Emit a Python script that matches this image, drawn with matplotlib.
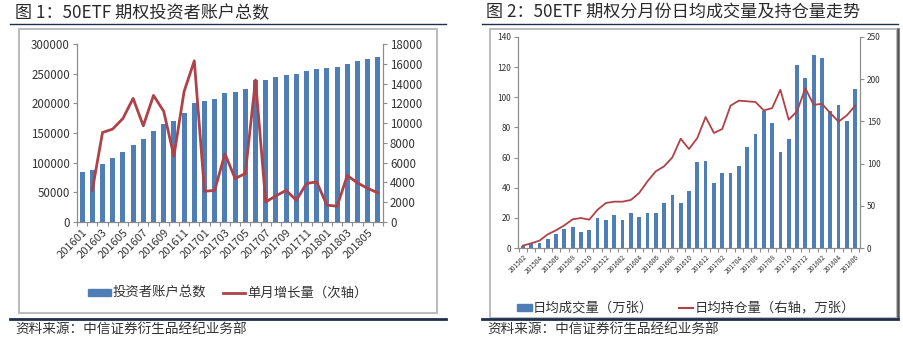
import matplotlib.pyplot as plt
from matplotlib.lines import Line2D
from matplotlib.patches import Patch, Rectangle
import numpy as np

plt.rcParams["font.family"] = ["Noto Sans CJK SC", "DejaVu Sans"]

W, H = 904, 344
BLUE = "#4F7DB5"
RED = "#AE4248"
GRAY = "#8c8c8c"
TXT = "#333333"
NAVY = "#1f2f4f"


def months(start_year, start_month, n):
    out = []
    y, m = start_year, start_month
    for _ in range(n):
        out.append(f"{y}{m:02d}")
        m += 1
        if m > 12:
            y, m = y + 1, 1
    return out


# figure 1: option investor accounts
months1 = months(2016, 1, 30)
accounts = [85000, 88000, 98000, 108000, 118000, 130000, 140000, 153000, 165000, 170000,
            184000, 200000, 204000, 207000, 217000, 219000, 224000, 239000, 240000, 244000,
            248000, 250000, 254000, 258000, 259000, 261000, 266000, 271000, 275000, 278000]
# monthly increase starts from 201602
growth = [3200, 9050, 9400, 10470, 12500, 9730, 12800, 11200, 6650, 13200,
          16300, 3100, 3200, 6900, 4400, 4900, 14360, 2030, 2640, 3200,
          2200, 3900, 4050, 1700, 1600, 4700, 3950, 3400, 2950]

# figure 2: monthly average volume / open interest
months2 = months(2015, 2, 41)
volume = [1.5, 2.6, 3.1, 5.8, 9.1, 12.4, 14.2, 10.6, 11.7, 19.9,
          18.8, 22.1, 18.4, 23.2, 20.6, 23.0, 23.5, 29.9, 35.2, 29.6,
          37.6, 57.3, 58.0, 43.1, 49.8, 49.8, 54.6, 66.8, 75.9, 91.2,
          83.0, 64.0, 72.6, 121.7, 113.0, 128.3, 126.0, 90.7, 94.9, 84.5, 105.5]
holding = [2.8, 5.5, 8.7, 16.2, 21.0, 26.9, 34.0, 35.5, 33.6, 45.4,
           53.3, 54.9, 54.9, 56.9, 65.2, 79.0, 90.8, 96.8, 107.4, 129.5,
           117.3, 130.3, 155.2, 136.3, 141.0, 168.6, 174.6, 173.8, 173.0, 163.0,
           165.7, 187.5, 152.0, 162.0, 189.3, 169.6, 170.8, 160.0, 149.7, 157.2, 168.6]


def px_axes(fig, left, top, right, bottom):
    return fig.add_axes([left / W, 1 - bottom / H, (right - left) / W, (bottom - top) / H])


def style_axes(ax, axr, n, labels, step, xfs, yfs, margin):
    ax.set_xlim(-margin, n - 1 + margin)
    ax.set_xticks(np.arange(0, n, step))
    ax.set_xticklabels(labels[::step], rotation=45, ha="right", rotation_mode="anchor",
                       fontsize=xfs, color=TXT)
    ax.set_xticks(np.arange(-0.5, n, 1), minor=True)
    ax.tick_params(axis="x", which="major", length=0, pad=4)
    ax.tick_params(axis="x", which="minor", length=3, color=GRAY, width=0.8)
    for a, side in ((ax, "left"), (axr, "right")):
        a.tick_params(axis="y", length=3, color=GRAY, width=0.8, labelsize=yfs,
                      labelcolor=TXT, pad=2)
        a.spines["top"].set_visible(False)
        for s in ("left", "right", "bottom"):
            a.spines[s].set_color(GRAY)
            a.spines[s].set_linewidth(0.8)


fig = plt.figure(figsize=(W / 100, H / 100), dpi=100)

# ---- left panel ----
ax1 = px_axes(fig, 77, 44, 383, 222)
x1 = np.arange(len(months1))
ax1.bar(x1, accounts, width=0.5, color=BLUE, zorder=2)
ax1.set_ylim(0, 300000)
ax1.set_yticks(np.arange(0, 300001, 50000))
ax1r = ax1.twinx()
ax1r.plot(x1[1:], growth, color=RED, lw=2.0, zorder=3)
ax1r.set_ylim(0, 18000)
ax1r.set_yticks(np.arange(0, 18001, 2000))
style_axes(ax1, ax1r, len(months1), months1, 2, 8, 8.3, 0.42)

fig.legend([Patch(color=BLUE), Line2D([], [], color=RED, lw=2)],
           ["投资者账户总数", "单月增长量（次轴）"],
           loc="center", bbox_to_anchor=(228 / W, 1 - 293 / H), ncol=2, frameon=False,
           fontsize=9.6, handlelength=1.7, handleheight=0.45, handletextpad=0.15,
           columnspacing=1.2, labelcolor=TXT)

# ---- right panel ----
ax2 = px_axes(fig, 518, 37, 860, 248)
x2 = np.arange(len(months2))
ax2.bar(x2, volume, width=0.45, color=BLUE, zorder=2)
ax2.set_ylim(0, 140)
ax2.set_yticks(np.arange(0, 141, 20))
ax2r = ax2.twinx()
ax2r.plot(x2, holding, color=RED, lw=1.3, zorder=3)
ax2r.set_ylim(0, 250)
ax2r.set_yticks(np.arange(0, 251, 50))
style_axes(ax2, ax2r, len(months2), months2, 2, 4.8, 6, 0.58)

fig.legend([Patch(color=BLUE), Line2D([], [], color=RED, lw=1.5)],
           ["日均成交量（万张）", "日均持仓量（右轴，万张）"],
           loc="center", bbox_to_anchor=(686 / W, 1 - 308 / H), ncol=2, frameon=False,
           fontsize=9.6, handlelength=1.1, handleheight=0.45, handletextpad=0.1,
           columnspacing=1.9, labelcolor=TXT)

# ---- titles, frames, rules, source notes ----
fig.text(15 / W, 1 - 13 / H, "图 1：50ETF 期权投资者账户总数", fontsize=12.3,
         color="#2a2a2a", va="center", ha="left")
fig.text(486 / W, 1 - 13 / H, "图 2：50ETF 期权分月份日均成交量及持仓量走势", fontsize=12.3,
         color="#2a2a2a", va="center", ha="left")

for (l, t, r, b) in ((19, 29, 437, 313), (490, 29, 897, 318)):
    fig.add_artist(Rectangle((l / W, 1 - b / H), (r - l) / W, (b - t) / H,
                             transform=fig.transFigure, fill=False, ec="#bdbdbd", lw=1.5))
fig.add_artist(Line2D([898 / W, 898 / W], [1 - 29 / H, 1 - 318 / H],
                      transform=fig.transFigure, color="#555555", lw=1.8))

for (l, r) in ((10, 446), (482, 898)):
    fig.add_artist(Line2D([l / W, r / W], [1 - 24 / H] * 2, transform=fig.transFigure,
                          color=NAVY, lw=1.0))
    fig.add_artist(Line2D([l / W, r / W], [1 - 318.5 / H] * 2, transform=fig.transFigure,
                          color=NAVY, lw=2.0))

for xs in (15, 487):
    fig.text(xs / W, 1 - 330 / H, "资料来源：中信证券衍生品经纪业务部", fontsize=9.8,
             color=TXT, va="center", ha="left", style="italic")

fig.savefig("out.png", dpi=100, facecolor="white")
